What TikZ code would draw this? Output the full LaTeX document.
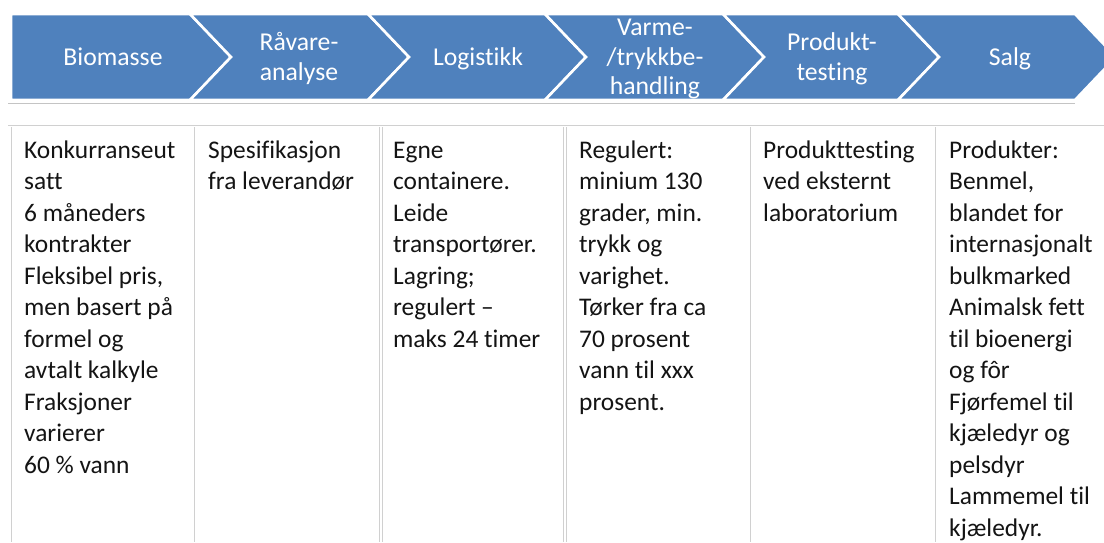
\documentclass[tikz,border=0pt]{standalone}
\usepackage{fontspec}
\setmainfont{Carlito}[Ligatures={NoCommon}]
\definecolor{chevblue}{RGB}{79,129,189}
\definecolor{rulegray}{RGB}{208,208,208}
\definecolor{shadowgray}{RGB}{196,196,196}
\definecolor{inkblack}{RGB}{20,20,20}
\begin{document}
\begin{tikzpicture}[x=1pt,y=-1pt,
  chev/.style={fill=chevblue,draw=white,line width=2.6pt,line join=miter},
  chevtext/.style={text=white,align=center,inner sep=0pt,
    font=\fontsize{25.7}{29.5}\selectfont},
  celltext/.style={anchor=north west,align=left,inner sep=0pt,text=inkblack,
    font=\fontsize{25.4}{31.5}\selectfont},
  gridline/.style={draw=rulegray,line width=1pt}]
\useasboundingbox (0,0) rectangle (1104,542);
\clip (0,0) rectangle (1104,542);
\fill[white] (0,0) rectangle (1104,542);

% process chevrons
\def\dd{41}
\draw[chev] (11,14) -- (190,14) -- (190+\dd,57) -- (190,100) -- (11,100) -- cycle;
\foreach \l/\r in {190/368, 368/545, 545/723, 723/898, 898/1075}{
  \draw[chev] (\l,14) -- (\r,14) -- (\r+\dd,57) -- (\r,100) -- (\l,100) -- (\l+\dd,57) -- cycle;
}
% shadow line under the band
\draw[draw=shadowgray,line width=1pt] (8,103) -- (1075,103);

\node[chevtext] (c1) at (113,59.5) {\strut Biomasse};
\node[chevtext] (c2) at (299,59.5) {\strut Råvare-\\\strut analyse};
\node[chevtext] (c3) at (478,59.5) {\strut Logistikk};
\node[chevtext] (c4) at (655,59.5) {\strut Varme-\\\strut /trykkbe-\\\strut handling};
\node[chevtext] (c5) at (832,59.5) {\strut Produkt-\\\strut testing};
\node[chevtext] (c6) at (1010,59.5) {\strut Salg};

% table grid
\draw[gridline] (8,125) -- (1104,125);
\foreach \x in {11,194,379,382,563,566,750,935}{
  \draw[gridline] (\x,127) -- (\x,542);
}

% table cells
\node[celltext] (t1) at (24,136) {\strut Konkurranseut\\satt\\6 måneders\\kontrakter\\Fleksibel pris,\\men basert på\\formel og\\avtalt kalkyle\\Fraksjoner\\varierer\\60 \% vann};
\node[celltext] (t2) at (208,136) {\strut Spesifikasjon\\fra leverandør};
\node[celltext] (t3) at (393,136) {\strut Egne\\containere.\\Leide\\transportører.\\Lagring;\\regulert –\\maks 24 timer};
\node[celltext] (t4) at (579,136) {\strut Regulert:\\minium 130\\grader, min.\\trykk og\\varighet.\\Tørker fra ca\\70 prosent\\vann til xxx\\prosent.};
\node[celltext] (t5) at (763,136) {\strut Produkttesting\\ved eksternt\\laboratorium};
\node[celltext] (t6) at (949,136) {\strut Produkter:\\Benmel,\\blandet for\\internasjonalt\\bulkmarked\\Animalsk fett\\til bioenergi\\og fôr\\Fjørfemel til\\kjæledyr og\\pelsdyr\\Lammemel til\\kjæledyr.};
\end{tikzpicture}
\end{document}
